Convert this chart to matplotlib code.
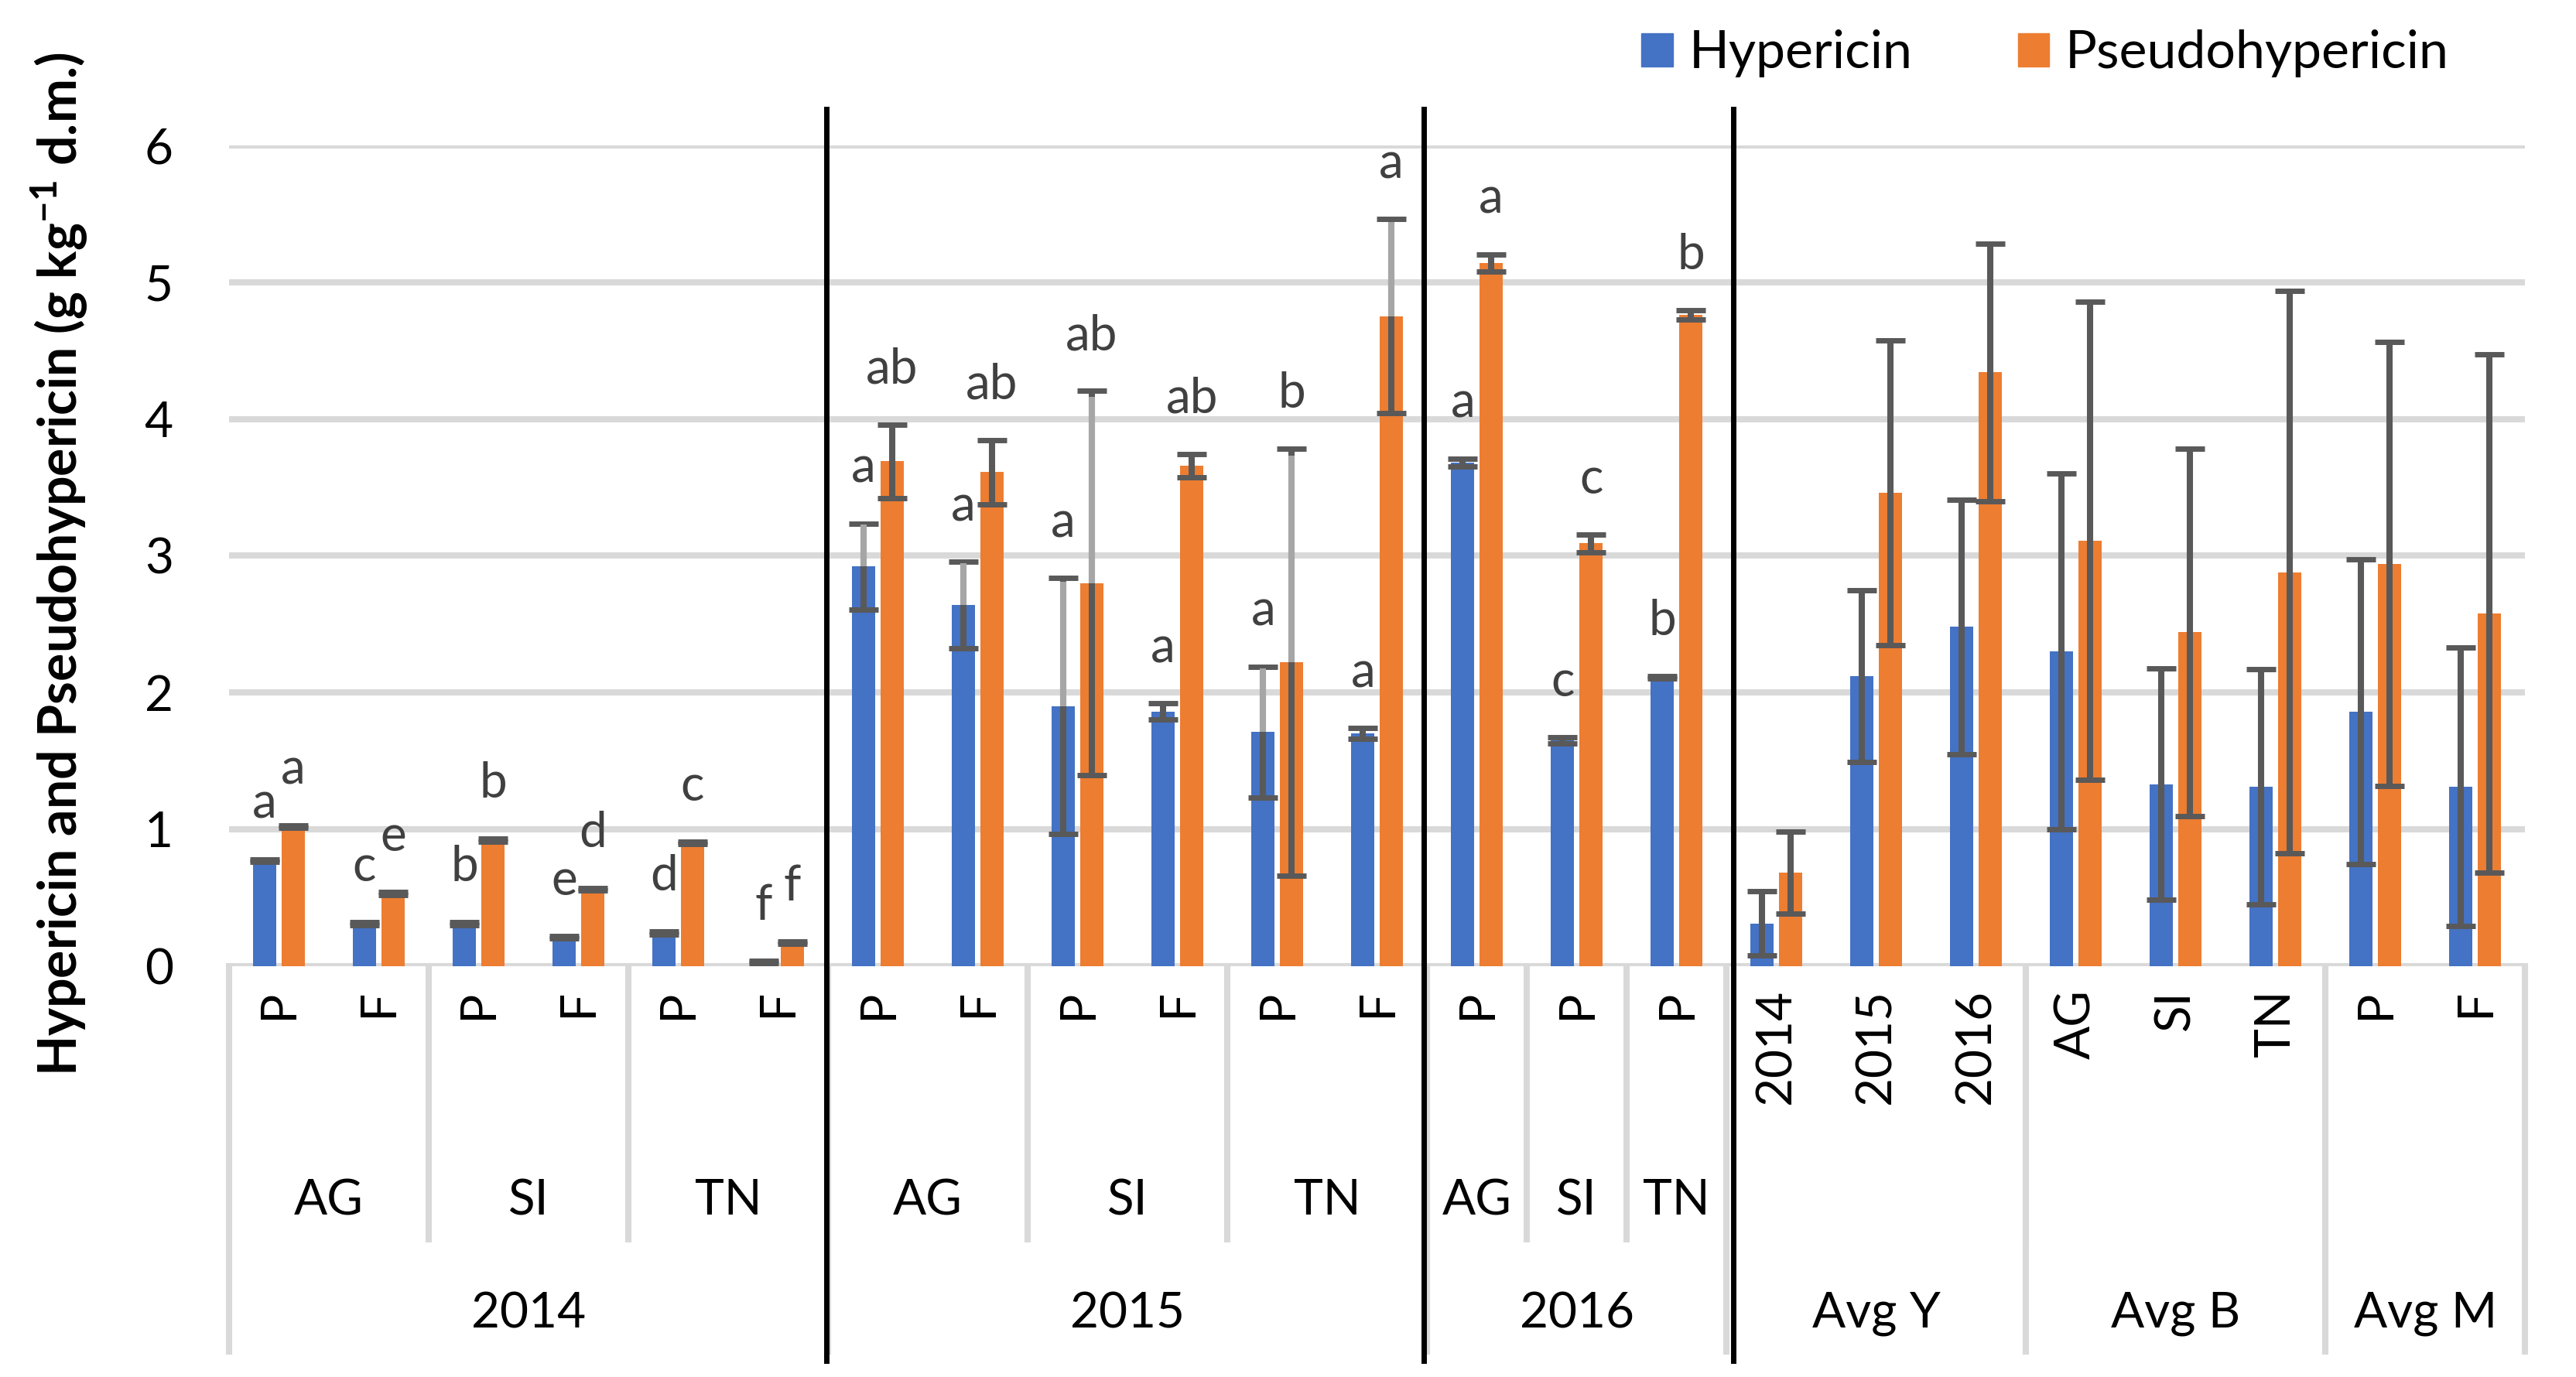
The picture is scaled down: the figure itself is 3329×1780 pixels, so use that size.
import matplotlib
matplotlib.use('Agg')
import matplotlib.pyplot as plt
import matplotlib.transforms as mtransforms
from matplotlib.patches import Patch

plt.rcParams['font.family'] = ['Lato', 'DejaVu Sans']
plt.rcParams['mathtext.fontset'] = 'custom'
plt.rcParams['mathtext.rm'] = 'Lato'
plt.rcParams['mathtext.bf'] = 'Lato:bold'

# Категории по уровням оси X
level1 = ['P', 'F', 'P', 'F', 'P', 'F',
          'P', 'F', 'P', 'F', 'P', 'F',
          'P', 'P', 'P',
          '2014', '2015', '2016',
          'AG', 'SI', 'TN',
          'P', 'F']
level2 = [('AG', 2), ('SI', 2), ('TN', 2),
          ('AG', 2), ('SI', 2), ('TN', 2),
          ('AG', 1), ('SI', 1), ('TN', 1),
          ('', 3), ('', 3), ('', 2)]
level3 = [('2014', 6), ('2015', 6), ('2016', 3),
          ('Avg Y', 3), ('Avg B', 3), ('Avg M', 2)]

# Значения (г/кг с.в.) и погрешности
hyp = [0.77, 0.31, 0.31, 0.21, 0.24, 0.03,
       2.92, 2.64, 1.90, 1.86, 1.71, 1.70,
       3.68, 1.65, 2.11,
       0.31, 2.12, 2.48,
       2.30, 1.33, 1.31,
       1.86, 1.31]
hyp_err = [0.01, 0.01, 0.01, 0.01, 0.01, 0.01,
           0.315, 0.315, 0.935, 0.06, 0.48, 0.04,
           0.03, 0.02, 0.01,
           0.235, 0.63, 0.93,
           1.30, 0.845, 0.86,
           1.115, 1.02]
pseudo = [1.02, 0.53, 0.92, 0.56, 0.90, 0.17,
          3.69, 3.61, 2.80, 3.66, 2.22, 4.75,
          5.14, 3.09, 4.76,
          0.68, 3.46, 4.34,
          3.11, 2.44, 2.88,
          2.94, 2.58]
pseudo_err = [0.01, 0.01, 0.01, 0.01, 0.01, 0.01,
              0.27, 0.235, 1.405, 0.085, 1.56, 0.71,
              0.065, 0.065, 0.035,
              0.30, 1.115, 0.94,
              1.75, 1.345, 2.055,
              1.625, 1.895]

# Буквы значимости
hyp_lbl = ['a', 'c', 'b', 'e', 'd', 'f',
           'a', 'a', 'a', 'a', 'a', 'a',
           'a', 'c', 'b'] + [''] * 8
pseudo_lbl = ['a', 'e', 'b', 'd', 'c', 'f',
              'ab', 'ab', 'ab', 'ab', 'b', 'a',
              'a', 'c', 'b'] + [''] * 8

# Столбцы, у которых верхняя часть усов светлая
light_hyp = [6, 7, 8, 10]
light_pseudo = [8, 10, 11]

BLUE = '#4472C4'
ORANGE = '#ED7D31'
ERR = '#595959'
GRID = '#D9D9D9'

fig = plt.figure(figsize=(33.3, 17.8), dpi=100)
ax = fig.add_axes([0.0889, 0.2985, 0.8911, 0.5959])

x = list(range(len(level1)))
w = 0.232
off = 0.143
xb = [i - off for i in x]
xo = [i + off for i in x]

ax.bar(xb, hyp, width=w, color=BLUE, label='Hypericin', zorder=2)
ax.bar(xo, pseudo, width=w, color=ORANGE, label='Pseudohypericin', zorder=2)

for xs, vals, errs, light in [(xb, hyp, hyp_err, light_hyp), (xo, pseudo, pseudo_err, light_pseudo)]:
    ax.errorbar(xs, vals, yerr=errs, fmt='none', ecolor=ERR, elinewidth=5.8,
                capsize=13.5, capthick=5, zorder=3)
    for i in light:
        ax.plot([xs[i], xs[i]], [vals[i], vals[i] + errs[i] * 0.97], color='#A6A6A6',
                lw=5.8, solid_capstyle='butt', zorder=4)

# Буквы над столбцами
for xs, vals, errs, lbls in [(xb, hyp, hyp_err, hyp_lbl), (xo, pseudo, pseudo_err, pseudo_lbl)]:
    for i, t in enumerate(lbls):
        if t:
            ax.text(xs[i], vals[i] + errs[i] + 0.3, t, ha='center', va='baseline',
                    fontsize=46, color='#404040', zorder=5)

ax.set_xlim(-0.5, len(level1) - 0.5)
ax.set_ylim(0, 6)
ax.set_yticks(range(7))
ax.yaxis.grid(True, color=GRID, lw=5.8, zorder=0)
ax.set_axisbelow(True)
for s in ax.spines.values():
    s.set_visible(False)
ax.tick_params(axis='y', length=0, pad=52, labelsize=46, labelcolor='#000000')
ax.set_xticks(x, level1, rotation=90, fontsize=46)
ax.tick_params(axis='x', length=0, pad=22)
for lbl in ax.get_xticklabels():
    lbl.set_verticalalignment('top')

blend = mtransforms.blended_transform_factory(ax.transData, fig.transFigure)
y_axis_fig = 0.2985

# Подписи второго и третьего уровня + разделители
pos = -0.5
for name, n in level2:
    if name:
        ax.text(pos + n / 2, 0.128, name, transform=blend, ha='center', va='center', fontsize=46)
    pos += n
    ax.plot([pos, pos], [y_axis_fig, 0.100], transform=blend, color=GRID, lw=5.8,
            clip_on=False, zorder=1)

pos = -0.5
bounds3 = [pos]
for name, n in level3:
    ax.text(pos + n / 2, 0.046, name, transform=blend, ha='center', va='center', fontsize=46)
    pos += n
    bounds3.append(pos)
for b in bounds3:
    ax.plot([b, b], [y_axis_fig, 0.0185], transform=blend, color=GRID, lw=5.8,
            clip_on=False, zorder=1)

# Чёрные вертикальные разделители
for b in [5.48, 11.47, 14.57]:
    ax.plot([b, b], [0.921, 0.012], transform=blend, color='black', lw=5,
            clip_on=False, zorder=6)

fig.text(0.0231, 0.590, r'Hypericin and Pseudohypericin (g kg$^{\mathbf{-1}}$ d.m.)',
         rotation=90, ha='center', va='center', fontsize=49, fontweight='bold')

handles = [Patch(color=BLUE), Patch(color=ORANGE)]
fig.legend(handles, ['Hypericin', 'Pseudohypericin'], loc='center',
           bbox_to_anchor=(0.7937, 0.961), ncol=2, frameon=False, fontsize=49,
           handlelength=0.6, handleheight=0.6, handletextpad=0.3, columnspacing=2.0)

fig.savefig('out.png', dpi=100)
